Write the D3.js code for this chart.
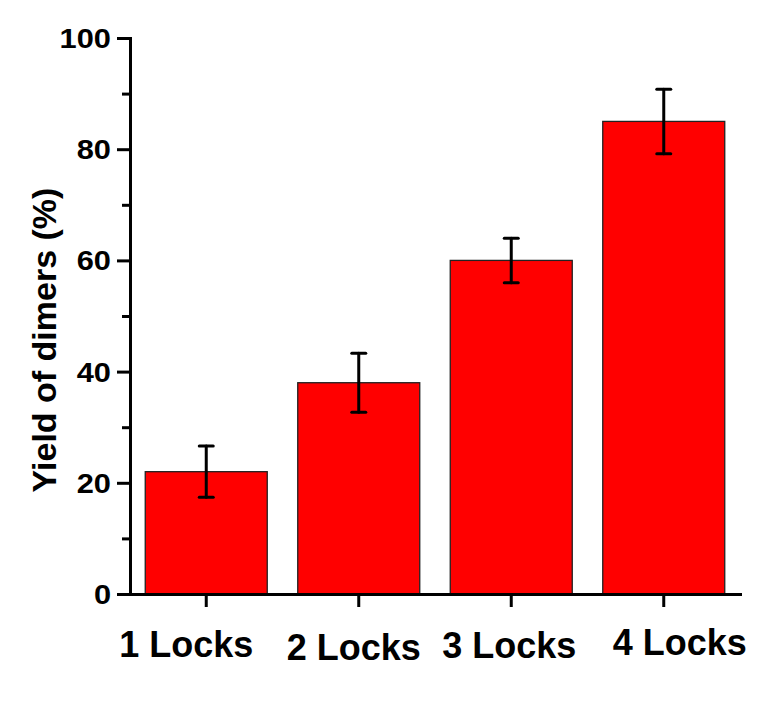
<!DOCTYPE html>
<html>
<head>
<meta charset="utf-8">
<script src="https://cdn.jsdelivr.net/npm/d3@7"></script>
<style>
  html, body { margin: 0; padding: 0; background: #ffffff; }
  svg { display: block; }
  text { font-family: "Liberation Sans", Arial, Helvetica, sans-serif; font-weight: bold; fill: #000; }
</style>
</head>
<body>
<svg id="chart" width="768" height="713"></svg>
<script>
// Dimer yield for each lock count, with error bars
const categories = ["1 Locks", "2 Locks", "3 Locks", "4 Locks"];
const yields = [22, 38, 60, 85];
const errors = [4.6, 5.3, 4.0, 5.8];
const yTicks = [0, 20, 40, 60, 80, 100];
const yMinorTicks = [10, 30, 50, 70, 90];

// small per-label horizontal/vertical nudges for the category labels
const labelNudgeX = [-20, -5, -2, 16];
const labelNudgeY = [0, 3, 1, -2];

const svg = d3.select("#chart");
const plotLeft = 130, plotRight = 740, plotTop = 38, plotBottom = 594;

const x = d3.scaleBand()
  .domain(categories)
  .range([plotLeft, plotRight])
  .paddingInner(0.2)
  .paddingOuter(0.1);

const y = d3.scaleLinear().domain([0, 100]).range([plotBottom, plotTop]);

// widen glyphs slightly to the heavier set-width of the labels
function stretch(sel, factor) {
  sel.each(function () {
    const len = this.getComputedTextLength();
    d3.select(this).attr("textLength", len * factor).attr("lengthAdjust", "spacingAndGlyphs");
  });
}

// bars
svg.append("g").selectAll("rect")
  .data(categories)
  .join("rect")
  .attr("x", d => x(d))
  .attr("y", (d, i) => y(yields[i]))
  .attr("width", x.bandwidth())
  .attr("height", (d, i) => y(0) - y(yields[i]))
  .attr("fill", "#ff0000")
  .attr("stroke", "#222")
  .attr("stroke-width", 1.3);

// error bars
const capHalf = 7;
const eb = svg.append("g").attr("stroke", "#000").attr("stroke-width", 3).attr("stroke-linecap", "round");
categories.forEach((c, i) => {
  const cx = x(c) + x.bandwidth() / 2;
  const hi = y(yields[i] + errors[i]);
  const lo = y(yields[i] - errors[i]);
  eb.append("line").attr("x1", cx).attr("x2", cx).attr("y1", hi).attr("y2", lo);
  eb.append("line").attr("x1", cx - capHalf).attr("x2", cx + capHalf).attr("y1", hi).attr("y2", hi);
  eb.append("line").attr("x1", cx - capHalf).attr("x2", cx + capHalf).attr("y1", lo).attr("y2", lo);
});

// y axis: minor ticks
svg.append("g")
  .attr("transform", `translate(${plotLeft},0)`)
  .call(d3.axisLeft(y).tickValues(yMinorTicks).tickSize(8).tickSizeOuter(0).tickFormat(""))
  .call(g => g.select(".domain").remove())
  .call(g => g.selectAll("line").attr("stroke", "#000").attr("stroke-width", 3));

// y axis: major ticks and labels
const gy = svg.append("g")
  .attr("transform", `translate(${plotLeft},0)`)
  .call(d3.axisLeft(y).tickValues(yTicks).tickSize(13).tickSizeOuter(0).tickPadding(6));
gy.select(".domain").attr("stroke", "#000").attr("stroke-width", 3).attr("stroke-linecap", "square");
gy.selectAll(".tick line").attr("stroke", "#000").attr("stroke-width", 3);
gy.selectAll(".tick text")
  .attr("font-size", 28)
  .attr("font-family", null)
  .attr("dy", "0.34em");
stretch(gy.selectAll(".tick text"), 1.1);

// x axis
const gx = svg.append("g")
  .attr("transform", `translate(0,${plotBottom})`)
  .call(d3.axisBottom(x).tickSize(13).tickSizeOuter(0).tickPadding(24));
gx.select(".domain").attr("stroke", "#000").attr("stroke-width", 3).attr("stroke-linecap", "square");
gx.selectAll(".tick line").attr("stroke", "#000").attr("stroke-width", 3);
gx.selectAll(".tick text")
  .attr("font-size", 36)
  .attr("font-family", null)
  .attr("dx", (d, i) => labelNudgeX[i])
  .attr("y", (d, i) => 13 + 24 + labelNudgeY[i]);

// y axis title
svg.append("text")
  .attr("transform", `translate(56,340) rotate(-90)`)
  .attr("text-anchor", "middle")
  .attr("font-size", 34)
  .text("Yield of dimers (%)");
</script>
</body>
</html>
